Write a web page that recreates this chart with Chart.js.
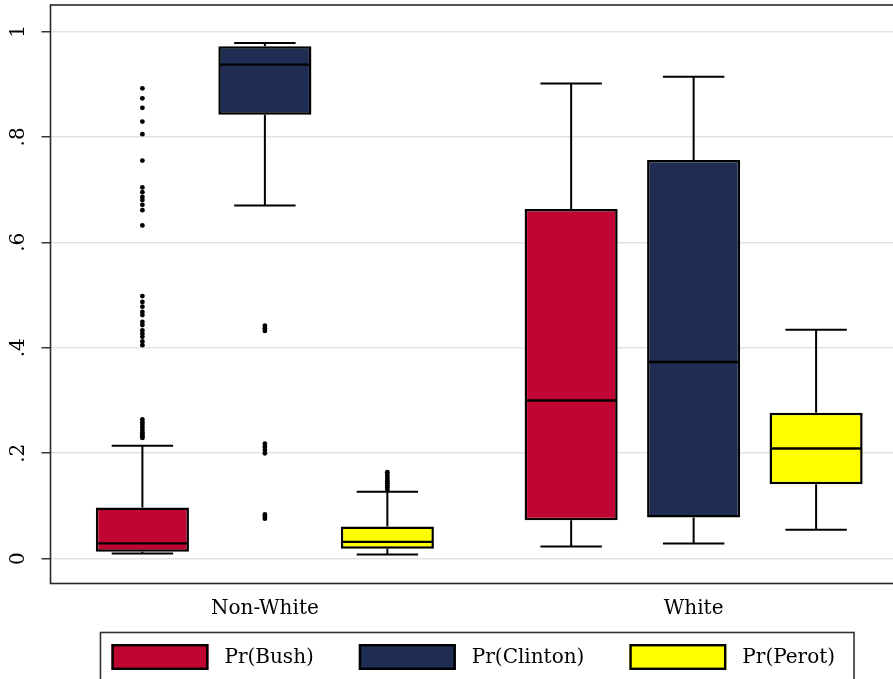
<!DOCTYPE html>
<html>
<head>
<meta charset="utf-8">
<script src="https://cdn.jsdelivr.net/npm/chart.js@4/dist/chart.umd.min.js"></script>
<style>
  html, body { margin: 0; padding: 0; background: #fff; width: 893px; height: 679px; overflow: hidden; }
  #wrap { position: relative; width: 908px; height: 679px; }
  canvas { display: block; }
</style>
</head>
<body>
<div id="wrap"><canvas id="chart" width="908" height="679"></canvas></div>
<script>
// Groups on the x axis and the three predicted-probability series
const groups = ['Non-White', 'White'];
const seriesNames = ['Pr(Bush)', 'Pr(Clinton)', 'Pr(Perot)'];
const seriesColors = ['#c10532', '#1f2d55', '#ffff00'];

const yTickValues = [0, 0.2, 0.4, 0.6, 0.8, 1];
const yTickLabels = ['0', '.2', '.4', '.6', '.8', '1'];

// Pr(Bush): whisker ends, quartiles and median for each group
const bushLow = [0.010, 0.023];
const bushQ1 = [0.013, 0.073];
const bushMedian = [0.029, 0.300];
const bushQ3 = [0.097, 0.663];
const bushHigh = [0.214, 0.901];
const bushOutliers = [
  [0.892, 0.873, 0.855, 0.829, 0.805, 0.755, 0.704, 0.695, 0.686, 0.680, 0.671, 0.661, 0.632,
   0.498, 0.487, 0.478, 0.468, 0.462, 0.449, 0.443, 0.433, 0.427, 0.421, 0.412, 0.405,
   0.264, 0.259, 0.254, 0.249, 0.244, 0.240, 0.236, 0.232, 0.229],
  []
];

// Pr(Clinton)
const clintonLow = [0.670, 0.029];
const clintonQ1 = [0.842, 0.078];
const clintonMedian = [0.937, 0.373];
const clintonQ3 = [0.972, 0.756];
const clintonHigh = [0.978, 0.914];
const clintonOutliers = [
  [0.442, 0.437, 0.432, 0.218, 0.212, 0.206, 0.200, 0.084, 0.080, 0.076],
  []
];

// Pr(Perot)
const perotLow = [0.008, 0.055];
const perotQ1 = [0.019, 0.141];
const perotMedian = [0.032, 0.209];
const perotQ3 = [0.061, 0.277];
const perotHigh = [0.127, 0.434];
const perotOutliers = [
  [0.164, 0.159, 0.155, 0.151, 0.147, 0.143, 0.139, 0.135, 0.131],
  []
];

const summaries = [
  { low: bushLow, q1: bushQ1, median: bushMedian, q3: bushQ3, high: bushHigh, outliers: bushOutliers },
  { low: clintonLow, q1: clintonQ1, median: clintonMedian, q3: clintonQ3, high: clintonHigh, outliers: clintonOutliers },
  { low: perotLow, q1: perotQ1, median: perotMedian, q3: perotQ3, high: perotHigh, outliers: perotOutliers }
];

const serifFont = '"DejaVu Serif", serif';

// Whiskers, caps, medians and outside values on top of the floating-bar boxes,
// then the plot-region frame.
const boxPlotMarks = {
  id: 'boxPlotMarks',
  afterDatasetsDraw(chart) {
    const { ctx } = chart;
    const y = chart.scales.y;
    ctx.save();
    summaries.forEach((s, di) => {
      const meta = chart.getDatasetMeta(di);
      meta.data.forEach((bar, i) => {
        const cx = bar.x;
        const half = bar.width / 2;
        const capHalf = bar.width * 0.33;
        const pLow = y.getPixelForValue(s.low[i]);
        const pQ1 = y.getPixelForValue(s.q1[i]);
        const pMed = y.getPixelForValue(s.median[i]);
        const pQ3 = y.getPixelForValue(s.q3[i]);
        const pHigh = y.getPixelForValue(s.high[i]);
        ctx.strokeStyle = '#000';
        ctx.lineWidth = 2;
        ctx.beginPath();
        ctx.moveTo(cx, pQ3); ctx.lineTo(cx, pHigh);
        ctx.moveTo(cx, pQ1); ctx.lineTo(cx, pLow);
        ctx.moveTo(cx - capHalf, pHigh); ctx.lineTo(cx + capHalf, pHigh);
        ctx.moveTo(cx - capHalf, pLow); ctx.lineTo(cx + capHalf, pLow);
        ctx.stroke();
        ctx.lineWidth = 2.4;
        ctx.beginPath();
        ctx.moveTo(cx - half + 1, pMed); ctx.lineTo(cx + half - 1, pMed);
        ctx.stroke();
        ctx.fillStyle = '#000';
        s.outliers[i].forEach(v => {
          ctx.beginPath();
          ctx.arc(cx, y.getPixelForValue(v), 2.4, 0, Math.PI * 2);
          ctx.fill();
        });
      });
    });
    const a = chart.chartArea;
    ctx.strokeStyle = '#2a2a2a';
    ctx.lineWidth = 1.6;
    ctx.strokeRect(a.left, a.top, a.right - a.left, a.bottom - a.top);
    ctx.restore();
  }
};

// Framed legend below the axis labels
const framedLegend = {
  id: 'framedLegend',
  afterDraw(chart) {
    const { ctx, chartArea: a } = chart;
    ctx.save();
    ctx.font = '20px ' + serifFont;
    const boxW = 97, boxH = 26, gap = 16, spacing = 45, innerL = 11, innerR = 19;
    const widths = seriesNames.map(n => boxW + gap + ctx.measureText(n).width);
    const total = widths.reduce((p, c) => p + c, 0) + spacing * (seriesNames.length - 1);
    const frameW = total + innerL + innerR;
    const left = (a.left + a.right) / 2 - frameW / 2 - 2;
    const top = a.bottom + 49;
    ctx.strokeStyle = '#333';
    ctx.lineWidth = 1.6;
    ctx.strokeRect(left, top, frameW, 80);
    let x = left + innerL;
    const boxTop = top + 11.5;
    seriesNames.forEach((name, i) => {
      ctx.fillStyle = seriesColors[i];
      ctx.fillRect(x, boxTop, boxW, boxH);
      ctx.strokeStyle = '#000';
      ctx.lineWidth = 2.4;
      ctx.strokeRect(x + 1.2, boxTop + 1.2, boxW - 2.4, boxH - 2.4);
      ctx.fillStyle = '#000';
      ctx.textAlign = 'left';
      ctx.textBaseline = 'middle';
      ctx.fillText(name, x + boxW + gap, boxTop + boxH / 2 + 1);
      x += widths[i] + spacing;
    });
    ctx.restore();
  }
};

const datasets = seriesNames.map((name, i) => ({
  label: name,
  data: summaries[i].q1.map((v, j) => [v, summaries[i].q3[j]]),
  backgroundColor: seriesColors[i],
  borderColor: '#000',
  borderWidth: 2.5,
  borderSkipped: false,
  categoryPercentage: 0.857,
  barPercentage: 0.76
}));

new Chart(document.getElementById('chart'), {
  type: 'bar',
  data: { labels: groups, datasets },
  plugins: [boxPlotMarks, framedLegend],
  options: {
    responsive: false,
    animation: false,
    devicePixelRatio: 1,
    layout: { autoPadding: false, padding: { top: 5, right: 0, bottom: 0, left: 0 } },
    plugins: { legend: { display: false }, tooltip: { enabled: false } },
    scales: {
      x: {
        grid: { display: false, drawTicks: false },
        border: { display: false },
        ticks: { color: '#000', font: { family: serifFont, size: 20 }, padding: 13 },
        afterFit(scale) {
          scale.height = 95.5;
          scale.paddingLeft = 0;
          scale.paddingRight = 0;
        }
      },
      y: {
        min: -0.047,
        max: 1.05,
        grid: { color: '#e3e3e3', lineWidth: 1.5, tickLength: 9, tickColor: '#333', tickWidth: 1.5 },
        border: { display: false },
        ticks: {
          color: '#000',
          font: { family: serifFont, size: 20 },
          padding: 13,
          minRotation: 90,
          maxRotation: 90,
          crossAlign: 'center',
          callback: (value) => {
            const k = yTickValues.findIndex(t => Math.abs(t - value) < 1e-9);
            return k >= 0 ? yTickLabels[k] : '';
          }
        },
        afterBuildTicks(scale) { scale.ticks = yTickValues.map(v => ({ value: v })); },
        afterFit(scale) {
          scale.width = 50.5;
          scale.paddingTop = 0;
          scale.paddingBottom = 0;
        }
      }
    }
  }
});
</script>
</body>
</html>
